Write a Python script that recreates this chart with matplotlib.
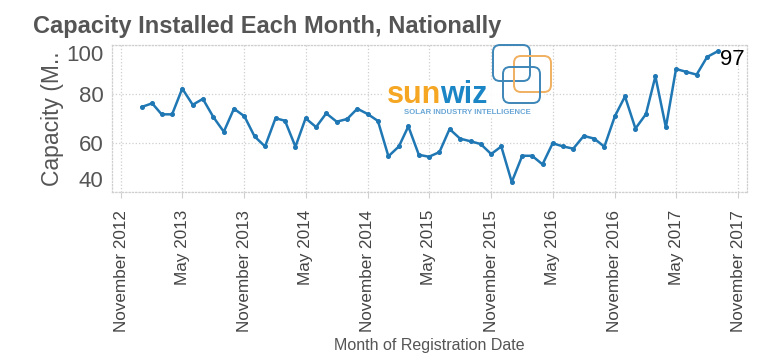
import pandas as pd
import numpy as np
import matplotlib
matplotlib.use('Agg')
import matplotlib.pyplot as plt
import matplotlib.dates as mdates
from matplotlib.patches import FancyBboxPatch, Rectangle

# Dados (capacidade instalada por mes, MW)
meses = pd.date_range('2013-01-01', periods=57, freq='MS')
capacidade = [
    74.7, 76.2, 71.7, 71.7, 82.2, 75.6, 78.0, 70.6, 64.6, 74.0, 70.9, 62.7,
    58.6, 70.1, 69.1, 58.5, 70.1, 66.5, 72.1, 68.7, 69.8, 74.0, 71.8, 69.0,
    54.6, 58.6, 66.8, 55.2, 54.4, 56.3, 65.7, 61.8, 60.7, 59.6, 55.5, 58.6,
    44.1, 54.8, 54.8, 51.3, 59.9, 58.6, 57.7, 62.9, 61.8, 58.5, 70.9, 79.0,
    65.9, 71.8, 87.2, 66.4, 90.2, 89.0, 87.9, 95.1, 97.4,
]
y_ticks = [40, 60, 80, 100]
rotulo_final = '97'

plt.rcParams['font.family'] = ['Liberation Sans', 'DejaVu Sans']

fig = plt.figure(figsize=(7.72, 3.59), dpi=100)
ax = fig.add_axes([0.145, 0.465, 0.8226, 0.4098])

cor_linha = '#1f77b4'
ax.plot(meses, capacidade, color=cor_linha, lw=1.8, marker='o', markersize=2.6, zorder=3)

ax.set_ylim(40, 100)
ax.set_xlim(pd.Timestamp('2012-10-05'), pd.Timestamp('2017-11-27'))
ax.set_yticks(y_ticks)
ax.xaxis.set_major_locator(mdates.MonthLocator(bymonth=[5, 11]))
ax.xaxis.set_major_formatter(mdates.DateFormatter('%B %Y'))

ax.grid(True, color='#cfcfcf', linestyle=':', lw=0.9)
for s in ax.spines.values():
    s.set_color('#cfcfcf')
    s.set_linestyle(':')
    s.set_linewidth(0.9)

ax.tick_params(axis='y', length=0, pad=6, labelsize=16, labelcolor='#555555')
ax.tick_params(axis='x', length=4, color='#cfcfcf', pad=9, labelsize=12.3,
               labelcolor='#444444', labelrotation=90)
# Tableau empurra os rotulos das pontas para dentro
rot_y = ax.get_yticklabels()
rot_y[0].set_va('bottom')
rot_y[-1].set_va('top')

ax.set_ylabel('Capacity (M..', fontsize=16.5, color='#555555', labelpad=2)
ax.set_xlabel('Month of Registration Date', fontsize=11.5, color='#555555', labelpad=4)

# Rotulo do ultimo ponto
ax.annotate(rotulo_final, (meses[-1], capacidade[-1]), xytext=(2, -6),
            textcoords='offset points', ha='left', va='center', fontsize=16, color='black')

fig.text(33 / 772, 1 - 33 / 359, 'Capacity Installed Each Month, Nationally',
         fontsize=17, fontweight='bold', color='#555555', va='baseline', ha='left')

# Logo sunwiz
lg = fig.add_axes([0, 0, 1, 1], zorder=5)
lg.set_xlim(0, 772)
lg.set_ylim(359, 0)
lg.axis('off')
lg.patch.set_alpha(0)
lg.add_patch(Rectangle((384, 80), 160, 38, facecolor='white', edgecolor='none', alpha=0.9))
for (x0, y0, cor) in [(493, 45, '#3d86b8'), (514, 56, '#f0b060'), (503, 67, '#3d86b8')]:
    lg.add_patch(FancyBboxPatch((x0, y0), 37, 36, boxstyle='round,pad=0,rounding_size=7',
                                facecolor='none', edgecolor=cor, lw=1.4))
t_sun = lg.text(387, 103, 'sun', fontsize=22, fontweight='bold', color='#f5a623',
                va='baseline', ha='left')
fig.canvas.draw()
bb = t_sun.get_window_extent(renderer=fig.canvas.get_renderer())
x_wiz = bb.x1 - 1  # em pixels, eixo do logo vai de 0 a 772
lg.text(x_wiz, 103, 'wiz', fontsize=22, fontweight='bold', color='#1b86c6',
        va='baseline', ha='left')
lg.text(467, 112.5, 'SOLAR INDUSTRY INTELLIGENCE', fontsize=5.6, fontweight='bold',
        color='#6aa7d6', va='center', ha='center')

fig.savefig('out.png', dpi=100)
